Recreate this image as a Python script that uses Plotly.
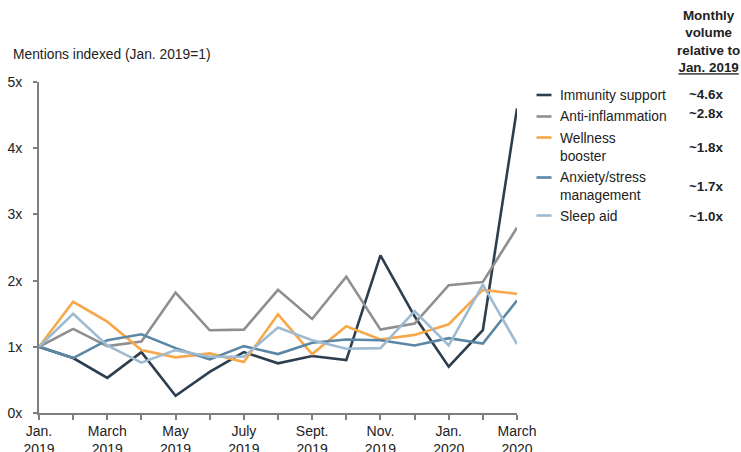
import plotly.graph_objects as go

# Monthly mentions, indexed to Jan. 2019 = 1
months = ["Jan. 2019", "Feb. 2019", "March 2019", "April 2019", "May 2019", "June 2019",
          "July 2019", "Aug. 2019", "Sept. 2019", "Oct. 2019", "Nov. 2019", "Dec. 2019",
          "Jan. 2020", "Feb. 2020", "March 2020"]
tick_labels = ["Jan.<br>2019", "", "March<br>2019", "", "May<br>2019", "", "July<br>2019", "",
               "Sept.<br>2019", "", "Nov.<br>2019", "", "Jan.<br>2020", "", "March<br>2020"]

series_names = ["Immunity support", "Anti-inflammation", "Wellness<br>booster",
                "Anxiety/stress<br>management", "Sleep aid"]
immunity = [1.0, 0.83, 0.53, 0.92, 0.26, 0.62, 0.92, 0.75, 0.86, 0.80, 2.38, 1.46, 0.70, 1.25, 4.6]
anti_inflammation = [1.0, 1.27, 1.01, 1.08, 1.82, 1.25, 1.26, 1.86, 1.42, 2.06, 1.26, 1.35, 1.93, 1.98, 2.8]
wellness = [1.0, 1.68, 1.38, 0.95, 0.84, 0.90, 0.77, 1.49, 0.89, 1.31, 1.11, 1.18, 1.34, 1.86, 1.8]
anxiety = [1.0, 0.83, 1.10, 1.19, 0.98, 0.81, 1.01, 0.89, 1.06, 1.11, 1.10, 1.02, 1.13, 1.05, 1.7]
sleep = [1.0, 1.50, 1.02, 0.76, 0.95, 0.85, 0.85, 1.29, 1.10, 0.97, 0.98, 1.54, 1.02, 1.94, 1.04]

colors = ["#2d3e4e", "#8f8f8f", "#f7a84b", "#5c87a4", "#9fbbd1"]
all_series = [immunity, anti_inflammation, wellness, anxiety, sleep]

W, H = 741, 452
L, R, T, B = 39, 224, 82, 39
plot_w = W - L - R
plot_h = H - T - B


def px_x(p):
    return (p - L) / plot_w


def px_y(p):
    return (H - B - p) / plot_h


fig = go.Figure()
x_idx = list(range(len(months)))
for name, vals, col in zip(series_names, all_series, colors):
    fig.add_trace(go.Scatter(x=x_idx, y=vals, mode="lines", name=name,
                             line=dict(color=col, width=2.6), showlegend=False,
                             customdata=months, hovertemplate="%{customdata}: %{y:.2f}x<extra></extra>"))

font = "Liberation Sans, Arial, sans-serif"
txt_col = "#222222"

annotations = [
    dict(text="Mentions indexed (Jan. 2019=1)", x=px_x(11), y=px_y(54), xref="paper", yref="paper",
         xanchor="left", yanchor="middle", showarrow=False, font=dict(size=13.8, color=txt_col, family=font)),
    dict(text="<b>Monthly<br>volume<br>relative to<br><u>Jan. 2019</u></b>", x=px_x(708), y=px_y(41),
         xref="paper", yref="paper", xanchor="center", yanchor="middle", align="center", showarrow=False,
         font=dict(size=13.4, color=txt_col, family=font)),
]

# Legend keys, names and end-of-period multiples
legend_line_y = [95, 116.5, 137.5, 177.5, 215.5]
legend_text_y = [95.5, 116.5, 147.5, 186, 216.5]
value_y = [94, 114, 147.5, 186, 216.5]
shapes = []
for i, (name, vals, col) in enumerate(zip(series_names, all_series, colors)):
    shapes.append(dict(type="line", xref="paper", yref="paper",
                       x0=px_x(536.5), x1=px_x(551.5), y0=px_y(legend_line_y[i]), y1=px_y(legend_line_y[i]),
                       line=dict(color=col, width=2.6)))
    annotations.append(dict(text=name, x=px_x(558), y=px_y(legend_text_y[i]), xref="paper", yref="paper",
                            xanchor="left", yanchor="middle", align="left", showarrow=False,
                            font=dict(size=13.8, color=txt_col, family=font)))
    annotations.append(dict(text=f"<b>~{vals[-1]:.1f}x</b>", x=px_x(706), y=px_y(value_y[i]),
                            xref="paper", yref="paper", xanchor="center", yanchor="middle", showarrow=False,
                            font=dict(size=13.4, color=txt_col, family=font)))

fig.update_layout(
    width=W, height=H,
    margin=dict(l=L, r=R, t=T, b=B, pad=0, autoexpand=False),
    paper_bgcolor="white", plot_bgcolor="white",
    font=dict(family=font, size=14, color=txt_col),
    xaxis=dict(range=[0, 14], tickvals=x_idx, ticktext=tick_labels, showgrid=False, zeroline=False,
               showline=True, linecolor="#7f7f7f", linewidth=2, ticks="outside", ticklen=5,
               tickcolor="#7f7f7f", tickwidth=1.5, tickfont=dict(size=14, color=txt_col),
               automargin=False, ticklabelstandoff=-1, fixedrange=True),
    yaxis=dict(range=[0, 5], tickvals=[0, 1, 2, 3, 4, 5], ticktext=["0x", "1x", "2x", "3x", "4x", "5x"],
               showgrid=False, zeroline=False, showline=True, linecolor="#7f7f7f", linewidth=2,
               ticks="outside", ticklen=4, tickcolor="#7f7f7f", tickwidth=1.5,
               tickfont=dict(size=14, color=txt_col), automargin=False, ticklabelstandoff=8,
               fixedrange=True),
    annotations=annotations, shapes=shapes, showlegend=False,
)

fig.write_html("out.html")
